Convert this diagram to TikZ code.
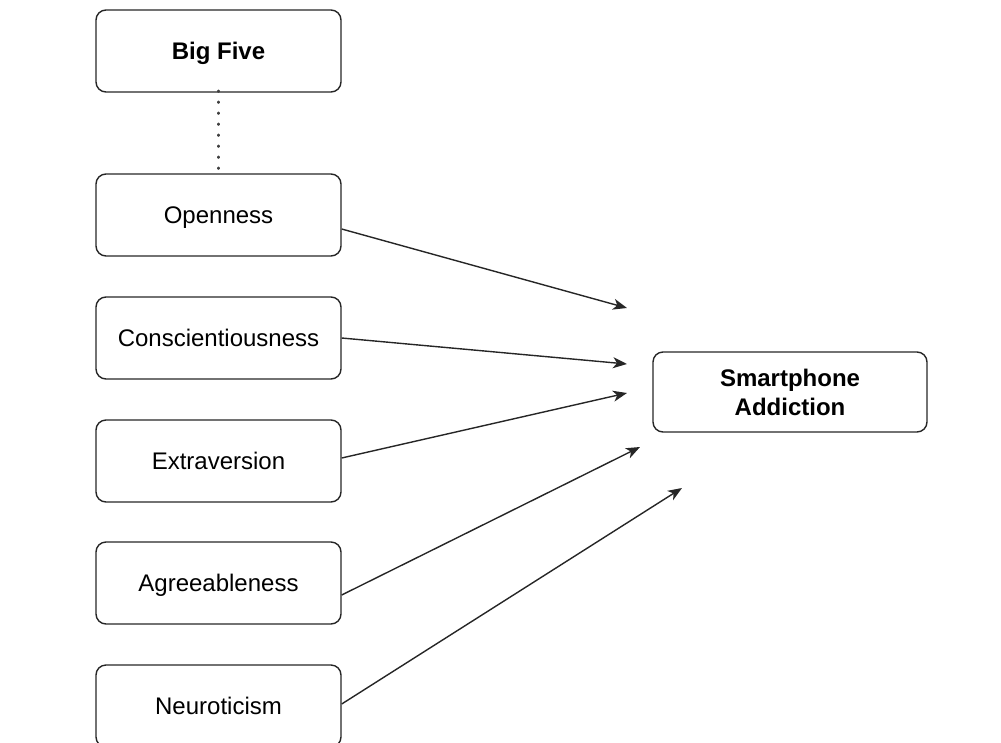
\documentclass[tikz,border=0pt]{standalone}
\usepackage{fontspec}
\setmainfont{Liberation Sans}
\usetikzlibrary{arrows.meta}
\begin{document}
\begin{tikzpicture}[x=1pt,y=-1pt,
  boxnode/.style={draw=black!85,line width=1.4pt,rounded corners=10pt,minimum width=245pt,minimum height=82pt,inner sep=0pt,align=center,text depth=0pt,font=\fontsize{24}{29}\selectfont},
  link/.style={draw=black!85,line width=1.4pt,-{Stealth[length=14pt,width=11pt,inset=4pt]}},
  dotline/.style={draw=black!75,line width=2.4pt,line cap=round,dash pattern=on 1pt off 10pt}]
\useasboundingbox (0,0) rectangle (1001,742);
\clip (0,0) rectangle (1001,742);
\node[boxnode,font=\fontsize{24}{29}\selectfont\bfseries] (big) at (218.5,51) {Big Five};
\node[boxnode] (open) at (218.5,215) {Openness};
\node[boxnode] (cons) at (218.5,338) {Conscientiousness};
\node[boxnode] (extr) at (218.5,461) {Extraversion};
\node[boxnode] (agre) at (218.5,583) {Agreeableness};
\node[boxnode] (neur) at (218.5,706) {Neuroticism};
\node[boxnode,minimum width=274pt,minimum height=80pt,font=\fontsize{24}{29}\selectfont\bfseries] (smart) at (790,392) {Smartphone\\Addiction};
\coordinate (e1) at (627,308);
\coordinate (e2) at (627,364);
\coordinate (e3) at (627,393);
\coordinate (e4) at (640,447);
\coordinate (e5) at (682,488);
\draw[dotline] ([yshift=2pt]big.south) -- (open.north);
\draw[link] ([yshift=-14pt]open.east) -- (e1);
\draw[link] (cons.east) -- (e2);
\draw[link] ([yshift=3pt]extr.east) -- (e3);
\draw[link] ([yshift=-12pt]agre.east) -- (e4);
\draw[link] ([yshift=2pt]neur.east) -- (e5);
\end{tikzpicture}
\end{document}
